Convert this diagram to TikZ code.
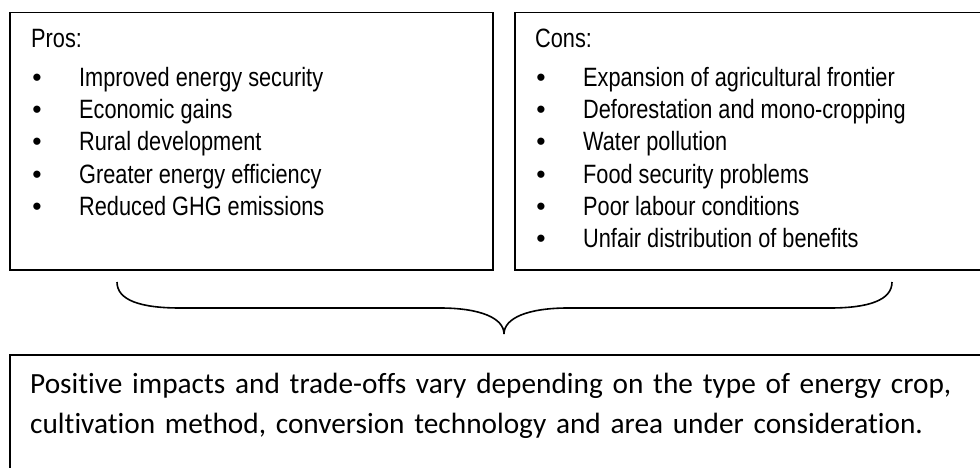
\documentclass[tikz,border=0pt]{standalone}
\usepackage{fontspec}
\newfontfamily\narrowfont[FakeStretch=0.82]{Liberation Sans}
\newfontfamily\bulletfont{Liberation Sans}
\newfontfamily\bodyfont[Ligatures=NoCommon]{Carlito}

\begin{document}
\begin{tikzpicture}[x=1pt,y=-1pt,
  box/.style={draw, line width=1.5pt, rectangle, inner sep=0pt, anchor=north west},
  listtext/.style={font=\narrowfont\fontsize{26.5}{32}\selectfont, anchor=base west, inner sep=0pt},
  dotmark/.style={font=\bulletfont\fontsize{26.5}{32}\selectfont, anchor=base, inner sep=0pt},
  bodytext/.style={font=\bodyfont\fontsize{29.3}{40}\selectfont, anchor=base west, inner sep=0pt,
    text width=940pt, align=left}]
  \useasboundingbox (0,0) rectangle (980,468);

  % boxes
  \node[box, minimum width=483pt, minimum height=257pt] (prosbox) at (9,12) {};
  \node[box, minimum width=490pt, minimum height=257pt] (consbox) at (514,12) {};
  \node[box, minimum width=995pt, minimum height=150pt] (sumbox) at (9,354) {};

  % pros
  \node[listtext] (pros) at (31,48) {Pros:};
  \foreach \txt [count=\k from 0] in {Improved energy security, Economic gains,
      Rural development, Greater energy efficiency, Reduced GHG emissions} {
    \node[dotmark] (prosdot\k) at (37,87+32*\k) {\textbullet};
    \node[listtext] (prositem\k) at (79,87+32*\k) {\txt};
  }

  % cons
  \node[listtext] (cons) at (535,48) {Cons:};
  \foreach \txt [count=\k from 0] in {Expansion of agricultural frontier,
      Deforestation and mono-cropping, Water pollution, Food security problems,
      Poor labour conditions, Unfair distribution of benefits} {
    \node[dotmark] (consdot\k) at (541,87+32*\k) {\textbullet};
    \node[listtext] (consitem\k) at (583,87+32*\k) {\txt};
  }

  % brace
  \coordinate (braceL) at (117,282);
  \coordinate (braceTip) at (504,334);
  \coordinate (braceR) at (892,282);
  \draw[line width=1.6pt] (braceL) .. controls (117,300) and (140,308) .. (180,308)
    -- (440,308) .. controls (480,308) and (504,318) .. (braceTip)
    .. controls (504,318) and (528,308) .. (568,308)
    -- (830,308) .. controls (869,308) and (892,300) .. (braceR);

  % summary
  \node[bodytext] (summary) at (30,393) {Positive impacts and trade-offs vary depending on the type of energy crop,\\
    cultivation method, conversion technology and area under consideration.};
\end{tikzpicture}
\end{document}
